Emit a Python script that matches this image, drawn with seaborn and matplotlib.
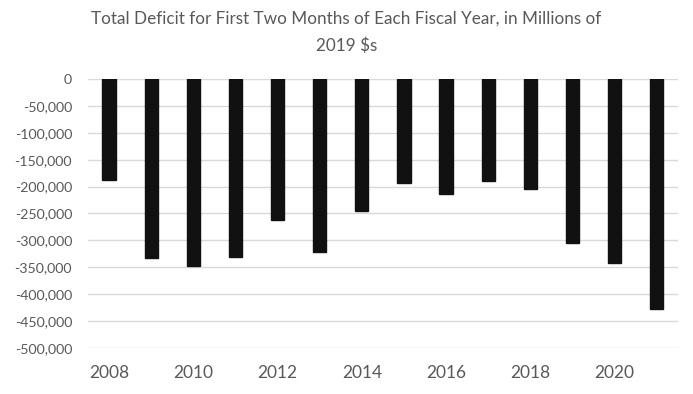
import matplotlib
matplotlib.use("Agg")
import matplotlib.pyplot as plt
import seaborn as sns
import pandas as pd
from matplotlib.ticker import FuncFormatter

years = [2008, 2009, 2010, 2011, 2012, 2013, 2014, 2015, 2016, 2017, 2018, 2019, 2020, 2021]
deficit = [-188000, -332000, -347000, -330000, -262000, -321000, -246000,
           -193000, -213000, -189000, -205000, -304000, -342000, -428000]
title = "Total Deficit for First Two Months of Each Fiscal Year, in Millions of\n2019 $s"

sns.set_theme(style="white")
plt.rcParams['font.family'] = ['Lato', 'DejaVu Sans']

df = pd.DataFrame({"year": [str(y) for y in years], "deficit": deficit})

fig = plt.figure(figsize=(6.93, 3.94), dpi=100)
ax = fig.add_axes([0.127, 0.1168, 0.851, 0.6827])
sns.barplot(data=df, x="year", y="deficit", color="#111111", width=0.316,
            saturation=1, ax=ax, zorder=3)
for p in ax.patches:
    p.set_edgecolor("#111111")
ax.set_ylim(-500000, 0)
ax.set_xlim(-0.5, len(years) - 0.5)
ax.set_yticks(range(-500000, 1, 50000))
ax.yaxis.set_major_formatter(FuncFormatter(lambda v, p: f"{int(v):,}"))
ax.set_xticks(range(0, len(years), 2))
ax.set_xticklabels([str(y) for y in years[::2]])
ax.grid(axis="y", color="#d9d9d9", linewidth=1, zorder=0)
for s in ax.spines.values():
    s.set_visible(False)
ax.tick_params(axis="y", labelsize=10.2, labelcolor="#595959", length=0, pad=11.5)
ax.tick_params(axis="x", labelsize=12.5, labelcolor="#595959", length=0, pad=12)
ax.set_xlabel("")
ax.set_ylabel("")
fig.text(0.5, 0.972, title, ha="center", va="top", fontsize=12.3, color="#595959",
         linespacing=1.75)
fig.savefig("out.png", dpi=100)
